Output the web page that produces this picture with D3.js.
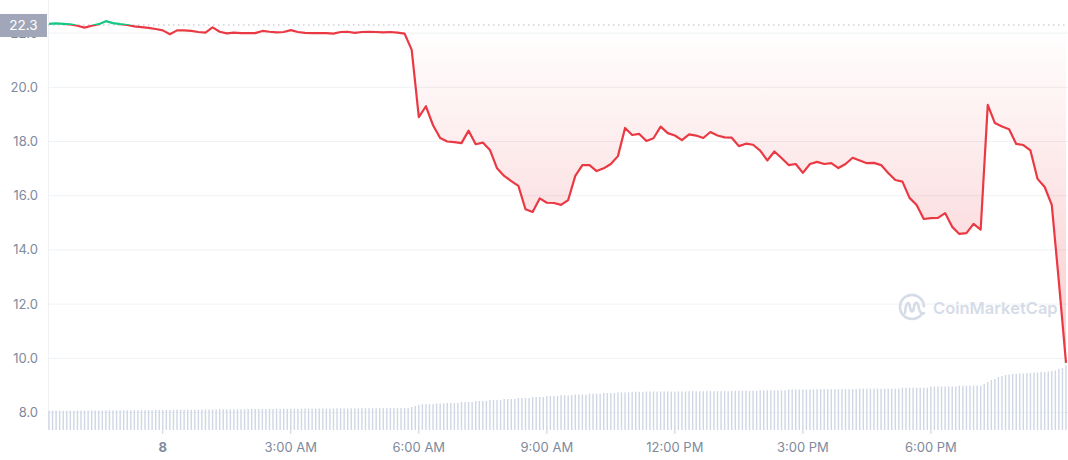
<!DOCTYPE html>
<html>
<head>
<meta charset="utf-8">
<script src="https://cdn.jsdelivr.net/npm/d3@7"></script>
<style>
  body { margin: 0; background: #fff; }
  svg { display: block; font-family: Inter, "Noto Sans", sans-serif; }
</style>
</head>
<body>
<div id="chart"></div>
<script>
// price every 10 minutes, starting 21:20 the day before
var openPrice = 22.30;
var priceValues = [
  22.34, 22.36, 22.34, 22.32, 22.27, 22.20, 22.27, 22.33, 22.44, 22.37, 22.33, 22.30, 22.25, 22.22, 22.19, 22.15,
  22.10, 21.96, 22.10, 22.10, 22.08, 22.04, 22.02, 22.21, 22.05, 21.99, 22.02, 22.00, 22.00, 22.00, 22.08, 22.05, 22.03, 22.04,
  22.11, 22.04, 22.01, 22.00, 22.00, 22.00, 21.98, 22.04, 22.05, 22.01, 22.04, 22.05, 22.04, 22.03, 22.04, 22.02, 21.98, 21.38,
  18.90, 19.30, 18.60, 18.13, 18.00, 17.98, 17.94, 18.40, 17.90, 17.96, 17.69, 17.01, 16.73, 16.54, 16.36, 15.50, 15.40, 15.90,
  15.74, 15.73, 15.66, 15.84, 16.73, 17.13, 17.13, 16.91, 17.01, 17.17, 17.46, 18.50, 18.24, 18.28, 18.02, 18.12, 18.55, 18.31,
  18.22, 18.05, 18.26, 18.22, 18.13, 18.35, 18.22, 18.15, 18.14, 17.83, 17.92, 17.88, 17.66, 17.30, 17.63, 17.39, 17.13, 17.17,
  16.84, 17.17, 17.25, 17.17, 17.20, 17.02, 17.17, 17.40, 17.30, 17.20, 17.21, 17.13, 16.84, 16.58, 16.52, 15.92, 15.66, 15.14,
  15.17, 15.18, 15.36, 14.85, 14.59, 14.62, 14.96, 14.75, 19.35, 18.68, 18.55, 18.45, 17.91, 17.87, 17.67, 16.62, 16.32, 15.66, 12.82, 9.83
];

// volume every 5 minutes (millions)
var volumeValues = [
  19.3, 19.3, 19.3, 19.3, 19.3, 19.3, 19.3, 19.3, 19.5, 19.5, 19.5, 19.5, 19.5, 19.5, 19.5, 19.5, 19.7, 19.7, 19.7, 19.7, 19.7, 19.7, 19.7, 19.7,
  19.8, 19.8, 19.8, 19.8, 19.8, 19.8, 20.0, 20.0, 20.0, 20.0, 20.0, 20.0, 20.3, 20.3, 20.3, 20.3, 20.3, 20.3, 20.5, 20.5, 20.5, 20.5, 20.5, 20.5,
  20.7, 20.7, 20.7, 20.7, 20.7, 20.7, 20.7, 20.7, 21.0, 21.0, 21.0, 21.0, 21.0, 21.0, 21.0, 21.0, 21.2, 21.2, 21.2, 21.2, 21.2, 21.2, 21.2, 21.2,
  21.4, 21.4, 21.4, 21.4, 21.4, 21.4, 21.4, 21.4, 21.6, 21.6, 21.6, 21.6, 21.6, 21.6, 21.6, 21.6, 21.8, 21.8, 21.8, 21.8, 21.8, 21.8, 21.8, 21.8,
  22.0, 22.0, 22.0, 22.0, 22.0, 22.0, 23.0, 24.0, 25.0, 25.8, 25.8, 25.8, 25.8, 26.5, 26.5, 26.5, 27.0, 27.0, 27.0, 27.0, 28.0, 28.0, 28.0, 28.0,
  29.0, 29.0, 29.0, 29.0, 30.0, 30.0, 30.0, 30.0, 31.0, 31.0, 31.0, 31.0, 32.0, 32.0, 32.0, 32.0, 33.0, 33.0, 33.0, 33.0, 34.0, 34.0, 34.0, 34.0,
  34.8, 34.8, 34.8, 34.8, 35.5, 35.5, 35.5, 35.5, 36.3, 36.3, 36.3, 36.3, 37.0, 37.0, 37.0, 37.0, 37.6, 37.6, 37.6, 37.6, 38.2, 38.2, 38.2, 38.2,
  38.5, 38.5, 38.5, 38.5, 38.5, 38.5, 38.5, 38.5, 38.5, 38.5, 38.5, 38.5, 38.8, 38.8, 38.8, 38.8, 38.8, 38.8, 38.8, 38.8, 38.8, 38.8, 38.8, 38.8,
  39.2, 39.2, 39.2, 39.2, 39.2, 39.2, 39.2, 39.2, 39.7, 39.7, 39.7, 39.7, 39.7, 39.7, 39.7, 39.7, 40.5, 40.5, 40.5, 40.5, 40.5, 40.5, 40.5, 40.5,
  40.8, 40.8, 40.8, 40.8, 40.8, 40.8, 40.8, 40.8, 40.8, 40.8, 40.8, 40.8, 41.3, 41.3, 41.3, 41.3, 41.3, 41.3, 41.3, 41.3, 41.3, 41.3, 41.3, 41.3,
  42.3, 42.3, 42.3, 42.3, 42.3, 42.3, 42.3, 42.3, 43.5, 43.5, 43.5, 43.5, 43.5, 43.5, 43.5, 43.5, 44.3, 44.3, 44.3, 44.3, 44.3, 44.3, 44.3, 46.0,
  48.0, 50.0, 51.0, 53.0, 54.0, 55.0, 55.5, 56.0, 56.0, 56.5, 56.5, 57.0, 57.0, 57.5, 57.5, 58.0, 58.0, 58.5, 59.0, 59.5, 61.0, 62.0, 65.0
];

var priceTicks = [8, 10, 12, 14, 16, 18, 20, 22];
var timeTickHours = [0, 3, 6, 9, 12, 15, 18];
var timeTickLabels = ["8", "3:00 AM", "6:00 AM", "9:00 AM", "12:00 PM", "3:00 PM", "6:00 PM"];

var width = 1068,
    height = 460,
    red = "#ea3943",
    green = "#16c784",
    labelColor = "#808a9d",
    gridColor = "#eff2f5";

var midnight = new Date(2022, 4, 8),
    start = d3.timeMinute.offset(midnight, -160);

var priceData = priceValues.map((v, i) => ({t: d3.timeMinute.offset(start, i * 10), v: v}));
var volumeData = volumeValues.map((v, i) => ({t: d3.timeMinute.offset(start, i * 5), v: v}));

var x = d3.scaleTime()
          .domain([start, priceData[priceData.length - 1].t])
          .range([49, 1066]);

var y = d3.scaleLinear()
          .domain([8, 22])
          .range([412.5, 33.1]);

var yVol = d3.scaleLinear()
             .domain([0, 80])
             .range([430, 350]);

var baseY = y(openPrice);

var svg = d3.select("#chart")
            .append("svg")
            .attr("width", width)
            .attr("height", height);

var defs = svg.append("defs");

var strokeGrad = defs.append("linearGradient")
                     .attr("id", "strokeGrad")
                     .attr("gradientUnits", "userSpaceOnUse")
                     .attr("x1", 0).attr("y1", 0)
                     .attr("x2", 0).attr("y2", height);
strokeGrad.append("stop").attr("offset", baseY / height).attr("stop-color", green);
strokeGrad.append("stop").attr("offset", baseY / height).attr("stop-color", red);

var fillGrad = defs.append("linearGradient")
                   .attr("id", "fillGrad")
                   .attr("gradientUnits", "userSpaceOnUse")
                   .attr("x1", 0).attr("y1", 0)
                   .attr("x2", 0).attr("y2", 370);
fillGrad.append("stop").attr("offset", 0).attr("stop-color", green).attr("stop-opacity", 0.12);
fillGrad.append("stop").attr("offset", baseY / 370).attr("stop-color", green).attr("stop-opacity", 0);
fillGrad.append("stop").attr("offset", baseY / 370).attr("stop-color", red).attr("stop-opacity", 0.0);
fillGrad.append("stop").attr("offset", 1).attr("stop-color", red).attr("stop-opacity", 0.27);

// grid
svg.append("g")
   .selectAll("line")
   .data(priceTicks)
   .enter()
   .append("line")
   .attr("x1", 48)
   .attr("x2", width)
   .attr("y1", (d) => y(d))
   .attr("y2", (d) => y(d))
   .style("stroke", gridColor)
   .style("stroke-width", 1);

svg.append("line")
   .attr("x1", 48.5).attr("x2", 48.5)
   .attr("y1", 0).attr("y2", 430)
   .style("stroke", gridColor);

// volume bars
svg.append("g")
   .selectAll("rect")
   .data(volumeData)
   .enter()
   .append("rect")
   .attr("x", (d) => x(d.t) - 0.7)
   .attr("width", 1.4)
   .attr("y", (d) => yVol(d.v))
   .attr("height", (d) => yVol(0) - yVol(d.v))
   .style("fill", "#cfd6e4");

// watermark
var wm = svg.append("g").attr("transform", "translate(912,307)");
var ring = d3.path();
ring.arc(0, 0, 12, 0.55, Math.PI * 2 - 0.05);
wm.append("path")
  .attr("d", ring.toString())
  .style("fill", "none")
  .style("stroke", "#d6dce7")
  .style("stroke-width", 2.6)
  .style("stroke-linecap", "round");
wm.append("path")
  .attr("d", "M-7,6 C-6,-6 -3,-6 -2,0 C-1,6 1,6 2,0 C3,-6 6,-6 7,2 C8,6 10,7 12,6")
  .style("fill", "none")
  .style("stroke", "#d6dce7")
  .style("stroke-width", 2.6)
  .style("stroke-linecap", "round");
svg.append("text")
   .attr("x", 933)
   .attr("y", 314)
   .style("font-size", "16.5px")
   .style("font-weight", "600")
   .style("fill", "#d6dce7")
   .text("CoinMarketCap");

// area + line
var area = d3.area()
             .x((d) => x(d.t))
             .y0(baseY)
             .y1((d) => y(d.v));

svg.append("path")
   .datum(priceData)
   .attr("d", area)
   .style("fill", "url(#fillGrad)");

svg.append("line")
   .attr("x1", 48).attr("x2", 1066)
   .attr("y1", baseY).attr("y2", baseY)
   .style("stroke", "#b7bcc6")
   .style("stroke-width", 1)
   .style("stroke-dasharray", "1.5,3.5");

var line = d3.line()
             .x((d) => x(d.t))
             .y((d) => y(d.v));

svg.append("path")
   .datum(priceData)
   .attr("d", line)
   .style("fill", "none")
   .style("stroke", "url(#strokeGrad)")
   .style("stroke-width", 2.2)
   .style("stroke-linejoin", "round");

// y labels
svg.append("g")
   .selectAll("text")
   .data(priceTicks)
   .enter()
   .append("text")
   .attr("x", 38)
   .attr("y", (d) => y(d))
   .attr("dy", "0.35em")
   .style("text-anchor", "end")
   .style("font-size", "13px")
   .style("fill", labelColor)
   .text((d) => d3.format(".1f")(d));

// x ticks + labels
var xTicks = svg.append("g")
                .selectAll("g")
                .data(timeTickHours)
                .enter()
                .append("g")
                .attr("transform", (d) => `translate(${x(d3.timeHour.offset(midnight, d))},0)`);

xTicks.append("line")
      .attr("y1", 430).attr("y2", 434)
      .style("stroke", "#c9ced8");

xTicks.append("text")
      .attr("y", 452)
      .style("text-anchor", "middle")
      .style("font-size", "13px")
      .style("font-weight", (d, i) => i === 0 ? "700" : "400")
      .style("fill", labelColor)
      .text((d, i) => timeTickLabels[i]);

// open price tag
svg.append("rect")
   .attr("x", 0)
   .attr("y", baseY - 11)
   .attr("width", 47)
   .attr("height", 23)
   .style("fill", "#a1a7b8");

svg.append("text")
   .attr("x", 23.5)
   .attr("y", baseY)
   .attr("dy", "0.36em")
   .style("text-anchor", "middle")
   .style("font-size", "13.5px")
   .style("fill", "#fff")
   .text(d3.format(".1f")(openPrice));
</script>
</body>
</html>
